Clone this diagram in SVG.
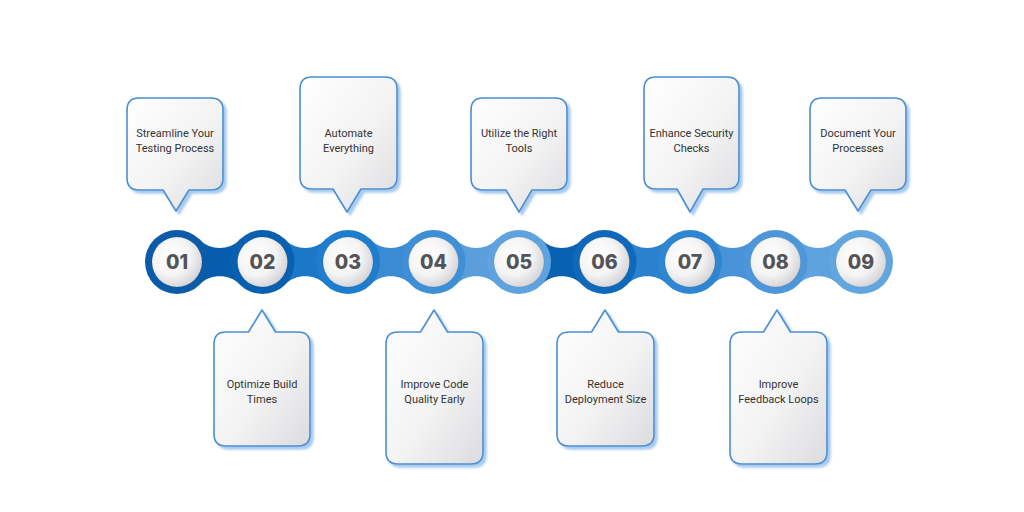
<svg xmlns="http://www.w3.org/2000/svg" width="1024" height="512" viewBox="0 0 1024 512">
<defs>
<linearGradient id="boxg" x1="0" y1="0" x2="1" y2="1">
<stop offset="0" stop-color="#ffffff"/>
<stop offset="0.55" stop-color="#f3f3f4"/>
<stop offset="1" stop-color="#dcdcdf"/>
</linearGradient>
<radialGradient id="inner" cx="0.38" cy="0.38" r="0.7">
<stop offset="0" stop-color="#ffffff"/>
<stop offset="0.55" stop-color="#f4f4f5"/>
<stop offset="1" stop-color="#cfcfd3"/>
</radialGradient>
<filter id="sh" x="-10%" y="-10%" width="125%" height="125%">
<feGaussianBlur in="SourceAlpha" stdDeviation="1.2" result="b"/>
<feOffset in="b" dx="3" dy="3" result="o"/>
<feFlood flood-color="#a8cbee"/>
<feComposite in2="o" operator="in" result="s"/>
<feMerge><feMergeNode in="s"/><feMergeNode in="SourceGraphic"/></feMerge>
</filter>
</defs>
<style>
.box{fill:url(#boxg);stroke:#4a8fd2;stroke-width:1.6;stroke-linejoin:round;filter:url(#sh)}
.lbl{font-family:Roboto,"Liberation Sans",sans-serif;font-size:11px;fill:#333333;text-anchor:middle}
.num{font-family:Inter,"Open Sans",sans-serif;font-weight:800;font-size:19.5px;fill:#545458;text-anchor:middle}
.in{fill:url(#inner);stroke:#000;stroke-opacity:0.08;stroke-width:1}
</style>
<rect width="1024" height="512" fill="#ffffff"/>

<g id="connectors">
<path fill="#075dad" d="M200,240 C210,250.5 229.5,250.5 239.5,240 L239.5,284 C229.5,273.5 210,273.5 200,284 Z"/>
<path fill="#1b78c9" d="M285.5,240 C295.5,250.5 315,250.5 325,240 L325,284 C315,273.5 295.5,273.5 285.5,284 Z"/>
<path fill="#3b8bd3" d="M371,240 C381,250.5 400.5,250.5 410.5,240 L410.5,284 C400.5,273.5 381,273.5 371,284 Z"/>
<path fill="#5a9fdc" d="M456.5,240 C466.5,250.5 486,250.5 496,240 L496,284 C486,273.5 466.5,273.5 456.5,284 Z"/>
<path fill="#0861b1" d="M542,240 C552,250.5 571.5,250.5 581.5,240 L581.5,284 C571.5,273.5 552,273.5 542,284 Z"/>
<path fill="#2a82cf" d="M627.5,240 C637.5,250.5 657,250.5 667,240 L667,284 C657,273.5 637.5,273.5 627.5,284 Z"/>
<path fill="#4893d7" d="M713,240 C723,250.5 742.5,250.5 752.5,240 L752.5,284 C742.5,273.5 723,273.5 713,284 Z"/>
<path fill="#5ea2de" d="M798.5,240 C808.5,250.5 828,250.5 838,240 L838,284 C828,273.5 808.5,273.5 798.5,284 Z"/>
</g>

<g id="node-01"><circle cx="177" cy="262" r="32" fill="#0b5ba8"/><circle class="in" cx="177" cy="262" r="25"/><text class="num" x="177" y="269">01</text></g>
<g id="node-02"><circle cx="262.5" cy="262" r="32" fill="#0a60b0"/><circle class="in" cx="262.5" cy="262" r="25"/><text class="num" x="262.5" y="269">02</text></g>
<g id="node-03"><circle cx="348" cy="262" r="32" fill="#1f7dcd"/><circle class="in" cx="348" cy="262" r="25"/><text class="num" x="348" y="269">03</text></g>
<g id="node-04"><circle cx="433.5" cy="262" r="32" fill="#3f8fd6"/><circle class="in" cx="433.5" cy="262" r="25"/><text class="num" x="433.5" y="269">04</text></g>
<g id="node-05"><circle cx="519" cy="262" r="32" fill="#5ea3df"/><circle class="in" cx="519" cy="262" r="25"/><text class="num" x="519" y="269">05</text></g>
<g id="node-06"><circle cx="604.5" cy="262" r="32" fill="#0f68b9"/><circle class="in" cx="604.5" cy="262" r="25"/><text class="num" x="604.5" y="269">06</text></g>
<g id="node-07"><circle cx="690" cy="262" r="32" fill="#2e86d2"/><circle class="in" cx="690" cy="262" r="25"/><text class="num" x="690" y="269">07</text></g>
<g id="node-08"><circle cx="775.5" cy="262" r="32" fill="#4c96d9"/><circle class="in" cx="775.5" cy="262" r="25"/><text class="num" x="775.5" y="269">08</text></g>
<g id="node-09"><circle cx="861" cy="262" r="32" fill="#62a6e0"/><circle class="in" cx="861" cy="262" r="25"/><text class="num" x="861" y="269">09</text></g>

<g id="callout-01">
<path class="box" d="M139,98 H211 Q223,98 223,110 V178 Q223,190 211,190 H189 L176,211 L163,190 H139 Q127,190 127,178 V110 Q127,98 139,98 Z"/>
<text class="lbl" x="175" y="137">Streamline Your</text><text class="lbl" x="175" y="152">Testing Process</text>
</g>
<g id="callout-03">
<path class="box" d="M312,77 H385 Q397,77 397,89 V177 Q397,189 385,189 H361 L347,212 L333,189 H312 Q300,189 300,177 V89 Q300,77 312,77 Z"/>
<text class="lbl" x="348.5" y="137">Automate</text><text class="lbl" x="348.5" y="152">Everything</text>
</g>
<g id="callout-05">
<path class="box" d="M483,98 H555 Q567,98 567,110 V178 Q567,190 555,190 H532 L519,212 L506,190 H483 Q471,190 471,178 V110 Q471,98 483,98 Z"/>
<text class="lbl" x="519" y="137">Utilize the Right</text><text class="lbl" x="519" y="152">Tools</text>
</g>
<g id="callout-07">
<path class="box" d="M656,77 H727 Q739,77 739,89 V177 Q739,189 727,189 H703 L690,212 L677,189 H656 Q644,189 644,177 V89 Q644,77 656,77 Z"/>
<text class="lbl" x="691.5" y="137">Enhance Security</text><text class="lbl" x="691.5" y="152">Checks</text>
</g>
<g id="callout-09">
<path class="box" d="M822,98 H894 Q906,98 906,110 V178 Q906,190 894,190 H871 L858,211 L845,190 H822 Q810,190 810,178 V110 Q810,98 822,98 Z"/>
<text class="lbl" x="858" y="137">Document Your</text><text class="lbl" x="858" y="152">Processes</text>
</g>

<g id="callout-02">
<path class="box" d="M226,332 H248.5 L262,310 L275.5,332 H298 Q310,332 310,344 V434 Q310,446 298,446 H226 Q214,446 214,434 V344 Q214,332 226,332 Z"/>
<text class="lbl" x="262" y="388">Optimize Build</text><text class="lbl" x="262" y="403">Times</text>
</g>
<g id="callout-04">
<path class="box" d="M398,332 H420.5 L434,310 L447.5,332 H471 Q483,332 483,344 V452 Q483,464 471,464 H398 Q386,464 386,452 V344 Q386,332 398,332 Z"/>
<text class="lbl" x="434.5" y="388">Improve Code</text><text class="lbl" x="434.5" y="403">Quality Early</text>
</g>
<g id="callout-06">
<path class="box" d="M569,332 H591.5 L605,310 L618.5,332 H642 Q654,332 654,344 V434 Q654,446 642,446 H569 Q557,446 557,434 V344 Q557,332 569,332 Z"/>
<text class="lbl" x="605.5" y="388">Reduce</text><text class="lbl" x="605.5" y="403">Deployment Size</text>
</g>
<g id="callout-08">
<path class="box" d="M742,332 H763.5 L777,310 L790.5,332 H815 Q827,332 827,344 V452 Q827,464 815,464 H742 Q730,464 730,452 V344 Q730,332 742,332 Z"/>
<text class="lbl" x="778.5" y="388">Improve</text><text class="lbl" x="778.5" y="403">Feedback Loops</text>
</g>
</svg>
